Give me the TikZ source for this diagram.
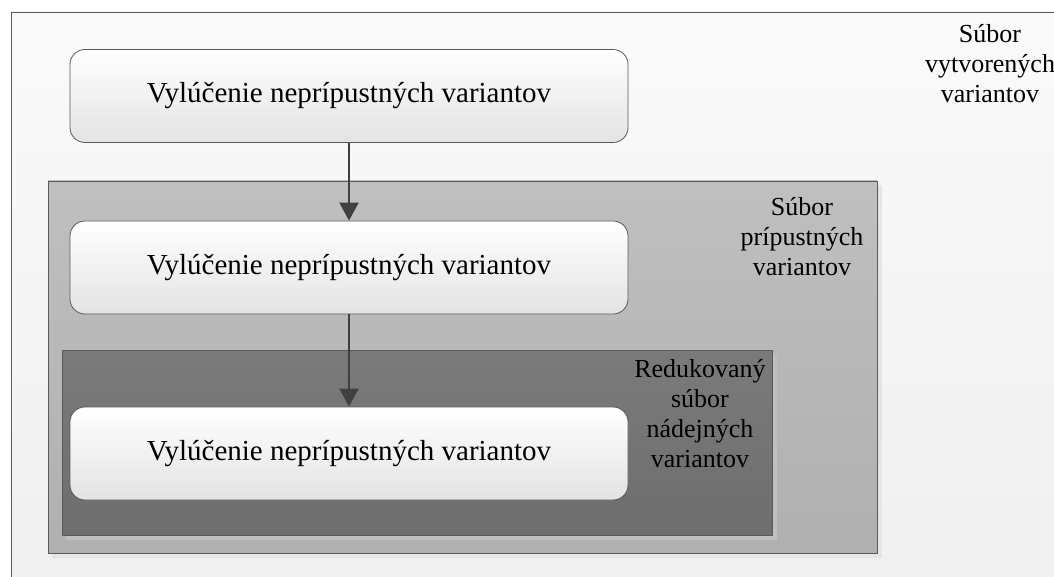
\documentclass[tikz,border=0pt]{standalone}
\usepackage{fontspec}
\setmainfont{Liberation Serif}
\usetikzlibrary{arrows.meta}
\definecolor{edgegray}{HTML}{5A5A5A}
\definecolor{arrgray}{HTML}{404040}
\tikzset{
  stepbox/.style={draw=edgegray, line width=0.8pt, rounded corners=15pt,
    minimum width=558pt, minimum height=93pt, inner sep=0pt,
    top color=white, bottom color=black!11,
    font=\fontsize{29}{34}\selectfont},
  setlabel/.style={align=center, inner sep=0pt, anchor=north,
    font=\fontsize{26}{30}\selectfont},
  arr/.style={draw=arrgray, line width=2pt, -{Triangle[width=19pt,length=18pt]}},
  region/.style={draw=edgegray, line width=0.8pt}
}
\begin{document}
\begin{tikzpicture}[x=1pt,y=-1pt]
\useasboundingbox (0,0) rectangle (1054,577);
\clip (0,0) rectangle (1054,577);
\fill[white] (0,0) rectangle (1054,577);
% outer set
\path[draw=edgegray, line width=0.8pt, top color=black!2, bottom color=black!6] (11,12) rectangle (1070,600);
\node[setlabel] (lab1) at (990,24) {Súbor\\vytvorených\\variantov};
% medium region
\fill[black!10] (52,185) rectangle (882,558);
\path[region, top color=black!25, bottom color=black!31] (48,181) rectangle (877,553);
\node[setlabel] (lab2) at (802,197) {Súbor\\prípustných\\variantov};
% dark region
\fill[black!25] (66,354) rectangle (777,540);
\path[region, top color=black!52, bottom color=black!57] (62,350) rectangle (772,535);
\node[setlabel] (lab3) at (700,359) {Redukovaný\\súbor\\nádejných\\variantov};
% steps
\node[stepbox] (n1) at (349,96) {Vylúčenie neprípustných variantov};
\node[stepbox] (n2) at (349,267.5) {Vylúčenie neprípustných variantov};
\node[stepbox] (n3) at (349,453.5) {Vylúčenie neprípustných variantov};
\draw[arr] (n1) -- (n2);
\draw[arr] (n2) -- (n3);
\end{tikzpicture}
\end{document}
